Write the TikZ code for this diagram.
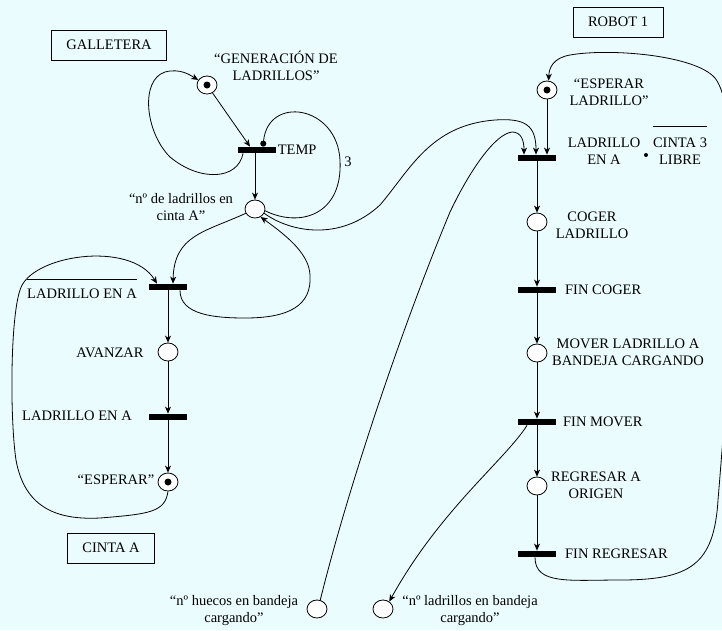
\documentclass[tikz,border=0pt]{standalone}
\usepackage{fontspec}
\setmainfont{Liberation Serif}
\usetikzlibrary{arrows.meta,shapes.geometric}
\definecolor{fondo}{RGB}{234,252,254}

\begin{document}
\begin{tikzpicture}[x=1pt,y=-1pt,line width=0.8pt,
  font=\fontsize{14.5}{17}\selectfont,
  lugar/.style={draw,ellipse,fill=white,minimum width=20pt,minimum height=18pt,inner sep=0pt},
  trans/.style={fill=black,minimum width=38pt,minimum height=6pt,inner sep=0pt},
  marca/.style={circle,fill=black,minimum size=7pt,inner sep=0pt},
  caja/.style={draw,inner xsep=15pt,minimum height=30pt},
  arco/.style={-{Stealth[length=7pt,width=6pt,inset=2pt]}}]
\useasboundingbox (0,0) rectangle (722,630);
\clip (0,0) rectangle (722,630);
\fill[fondo] (0,0) rectangle (722,630);

\node[caja] (galletera) at (109,45) {GALLETERA};
\node[caja] (robot) at (618,22) {ROBOT 1};
\node[caja] (cintaA) at (111,548) {CINTA A};

\node[lugar] (gen) at (207,85) {};
\node[marca] at (gen) {};
\node[trans] (temp) at (257,150) {};
\node[lugar] (ncinta) at (255,209) {};
\node[trans] (t1) at (168,287) {};
\node[lugar] (avanzar) at (168,352) {};
\node[trans] (t2) at (168,417) {};
\node[lugar] (esperar) at (168,482) {};
\node[marca] at (esperar) {};

\node[lugar] (esplad) at (547,90) {};
\node[marca] at (esplad) {};
\node[trans] (t3) at (537,158) {};
\node[lugar] (coger) at (537,222) {};
\node[trans] (fincoger) at (537,290) {};
\node[lugar] (mover) at (537,353) {};
\node[trans] (finmover) at (537,422) {};
\node[lugar] (regresar) at (537,486) {};
\node[trans] (finregresar) at (537,554) {};
\node[lugar] (huecos) at (317,609) {};
\node[lugar] (nbandeja) at (383,609) {};

\node[align=center] at (276,66) {“GENERACIÓN DE\\LADRILLOS”};
\node[anchor=west,inner sep=1pt] at (temp.east) {TEMP};
\node at (348,162) {3};
\node[align=center] at (181,207) {“nº de ladrillos en\\cinta A”};
\node[inner sep=0pt] (nla) at (82,294) {LADRILLO EN A};
\draw ([yshift=9pt]nla.north west) -- ([yshift=9pt]nla.north east);
\node at (110,353) {AVANZAR};
\node at (77,416) {LADRILLO EN A};
\node at (116,480) {“ESPERAR”};

\node[align=center] at (609,92) {“ESPERAR\\LADRILLO”};
\node[align=center] at (604,151) {LADRILLO\\EN A};
\fill (646,155) circle (2pt);
\node[align=center,inner sep=0pt] (libre) at (680,151.5) {CINTA 3\\LIBRE};
\draw ([yshift=11pt]libre.north west) -- ([yshift=11pt]libre.north east);
\node[align=center] at (592,225) {COGER\\LADRILLO};
\node[anchor=west] at ([xshift=5pt]fincoger.east) {FIN COGER};
\node[align=center] at (628,352) {MOVER LADRILLO A\\BANDEJA CARGANDO};
\node[anchor=west] at ([xshift=3pt]finmover.east) {FIN MOVER};
\node[align=center] at (596,485) {REGRESAR A\\ORIGEN};
\node[anchor=west] at ([xshift=5pt]finregresar.east) {FIN REGRESAR};
\node[align=center] at (234,611) {“nº huecos en bandeja\\cargando”};
\node[align=center] at (470,611) {“nº ladrillos en bandeja\\cargando”};

\draw[arco] (gen) -- ([xshift=-7pt]temp.north);
\draw[arco] ([xshift=-14pt]temp.south) .. controls (238,180) and (200,182) .. (170,157)
  .. controls (145,132) and (140,80) .. (165,72) .. controls (180,68) and (190,75) .. (gen.150);
\draw[arco] ([xshift=-2pt]temp.south) -- (ncinta.north);
\draw[-{Circle[length=6pt]}] (ncinta.-10) .. controls (300,228) and (343,215) .. (340,160)
  .. controls (337,105) and (268,95) .. ([xshift=6pt]temp.north);
\draw[arco] (ncinta.-155) .. controls (205,232) and (174,235) .. ([xshift=5pt]t1.north);
\draw[arco] ([xshift=12pt]t1.south) .. controls (180,315) and (215,318) .. (245,318)
  .. controls (290,318) and (312,305) .. (310,275) .. controls (309,255) and (290,238) .. (ncinta.-55);
\draw[arco] (t1) -- (avanzar);
\draw[arco] (avanzar) -- (t2);
\draw[arco] (t2) -- (esperar);
\draw[arco] (esperar.south) .. controls (165,512) and (150,514) .. (100,518)
  .. controls (60,520) and (25,510) .. (16,460) .. controls (10,420) and (10,320) .. (20,290)
  .. controls (30,255) and (130,240) .. ([xshift=-11pt]t1.north);

\draw[arco] (esplad) -- (esplad |- t3.north);
\draw[arco] (ncinta.-25) .. controls (290,232) and (340,242) .. (380,205)
  .. controls (410,170) and (430,125) .. (495,120) .. controls (525,118) and (536,125) .. ([xshift=-1pt]t3.north);
\draw[arco] (huecos.70) .. controls (350,480) and (405,320) .. (450,212)
  .. controls (470,170) and (495,134) .. (512,132) .. controls (521,132) and (524,140) .. ([xshift=-13pt]t3.north);
\draw[arco] (t3) -- (coger);
\draw[arco] (coger) -- (fincoger);
\draw[arco] (fincoger) -- (mover);
\draw[arco] (mover) -- (finmover);
\draw[arco] (finmover) -- (regresar);
\draw[arco] (regresar) -- (finregresar);
\draw[arco] ([xshift=-10pt]finmover.south) .. controls (505,460) and (440,510) .. (nbandeja.50);
\draw[arco] ([xshift=-2pt]finregresar.south) .. controls (535,585) and (570,580) .. (620,580)
  .. controls (690,580) and (714,565) .. (718,500) .. controls (728,380) and (748,120) .. (715,78)
  .. controls (695,55) and (610,48) .. (570,55) .. controls (553,58) and (549,68) .. (esplad.80);
\end{tikzpicture}
\end{document}
